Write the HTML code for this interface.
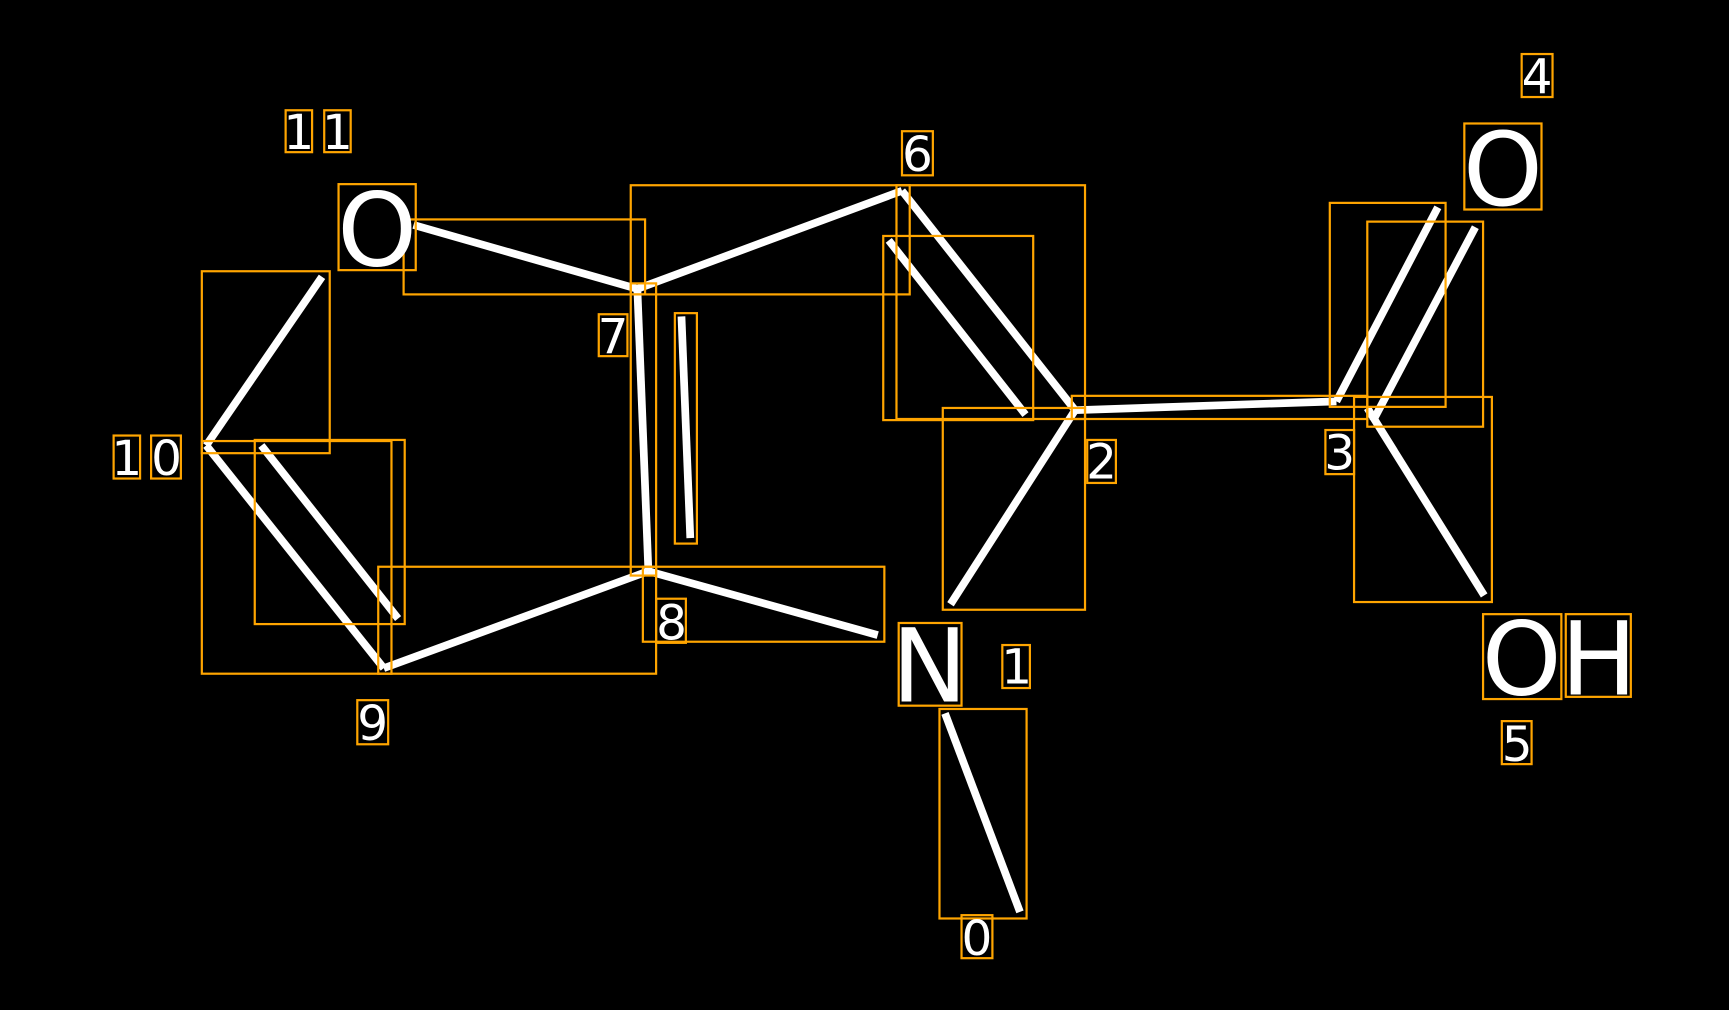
<!DOCTYPE html>
<html><head><style>html,body{margin:0;padding:0;background:#000;width:1729px;height:1010px;overflow:hidden}</style></head>
<body>
<svg width="1729" height="1010" viewBox="0 0 1568 916" xmlns="http://www.w3.org/2000/svg">
<rect width="1568" height="916" fill="#000"/>
<g stroke="#fff" stroke-width="7" stroke-linecap="butt">
<line x1="375" y1="204" x2="578" y2="262"/>
<line x1="578" y1="262" x2="818" y2="173"/>
<line x1="818" y1="173" x2="975" y2="372"/>
<line x1="806" y1="218" x2="930" y2="376"/>
<line x1="578" y1="262" x2="588" y2="518"/>
<line x1="618" y1="287" x2="626" y2="488"/>
<line x1="588" y1="518" x2="796" y2="576"/>
<line x1="588" y1="518" x2="348" y2="606"/>
<line x1="348" y1="606" x2="187" y2="404"/>
<line x1="237" y1="404" x2="361" y2="561"/>
<line x1="187" y1="404" x2="292" y2="251"/>
<line x1="975" y1="372" x2="862" y2="548"/>
<line x1="975" y1="372" x2="1212" y2="364"/>
<line x1="1212" y1="364" x2="1304" y2="188"/>
<line x1="1245" y1="382" x2="1338" y2="206"/>
<line x1="1240" y1="370" x2="1346" y2="540"/>
<line x1="857" y1="647" x2="925" y2="827"/>
</g>
<g fill="none" stroke="#ffa500" stroke-width="2">
<rect x="259" y="100" width="24" height="38"/><rect x="294" y="100" width="24" height="38"/>
<rect x="307" y="167" width="70" height="78"/>
<rect x="366" y="199" width="219" height="68"/>
<rect x="572" y="168" width="253" height="99"/>
<rect x="813" y="168" width="171" height="212"/>
<rect x="801" y="214" width="136" height="167"/>
<rect x="818" y="119" width="28" height="40"/>
<rect x="183" y="246" width="116" height="165"/>
<rect x="103" y="395" width="24" height="39"/><rect x="137" y="395" width="27" height="39"/>
<rect x="183" y="400" width="172" height="211"/>
<rect x="231" y="399" width="136" height="167"/>
<rect x="343" y="514" width="252" height="97"/>
<rect x="572" y="257" width="23" height="265"/>
<rect x="543" y="285" width="26" height="38"/>
<rect x="612" y="284" width="20" height="209"/>
<rect x="583" y="514" width="219" height="68"/>
<rect x="595" y="543" width="27" height="40"/>
<rect x="324" y="635" width="28" height="40"/>
<rect x="972" y="359" width="268" height="21"/>
<rect x="986" y="399" width="26" height="39"/>
<rect x="855" y="370" width="129" height="183"/>
<rect x="815" y="565" width="57" height="75"/>
<rect x="909" y="585" width="25" height="39"/>
<rect x="852" y="643" width="79" height="190"/>
<rect x="872" y="830" width="28" height="39"/>
<rect x="1380" y="49" width="28" height="39"/>
<rect x="1328" y="112" width="70" height="78"/>
<rect x="1206" y="184" width="105" height="185"/>
<rect x="1240" y="201" width="105" height="186"/>
<rect x="1202" y="390" width="26" height="40"/>
<rect x="1228" y="360" width="125" height="186"/>
<rect x="1345" y="557" width="71" height="77"/>
<rect x="1420" y="557" width="59" height="75"/>
<rect x="1362" y="654" width="27" height="39"/>
</g>
<g fill="#fff" font-family="DejaVu Sans, Liberation Sans, sans-serif" text-anchor="middle">
<g font-size="44">
<text x="271" y="135">1</text><text x="306" y="135">1</text>
<text x="832" y="155">6</text>
<text x="115" y="431">1</text><text x="151" y="431">0</text>
<text x="556" y="320">7</text>
<text x="609" y="580">8</text>
<text x="338" y="671">9</text>
<text x="999" y="434">2</text>
<text x="922" y="620">1</text>
<text x="886" y="866">0</text>
<text x="1394" y="85">4</text>
<text x="1215" y="426">3</text>
<text x="1376" y="690">5</text>
</g>
<g font-size="92">
<text x="342" y="241">O</text>
<text x="843" y="636">N</text>
<text x="1363" y="186">O</text>
<text x="1380" y="630">O</text>
<text x="1450" y="630">H</text>
</g>
</g>
</svg>
</body></html>
